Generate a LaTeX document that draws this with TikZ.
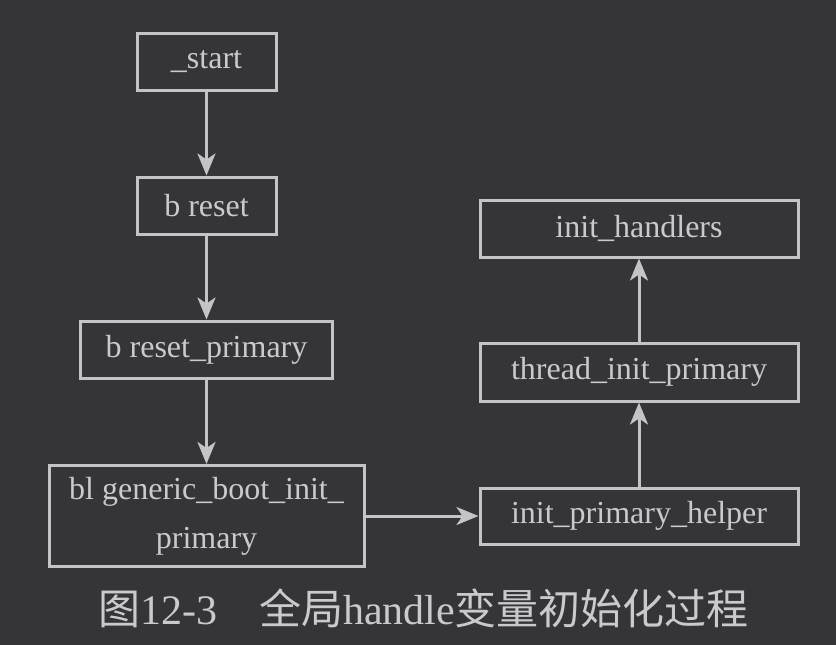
\documentclass[tikz,border=0pt]{standalone}
\usepackage{fontspec}
\setmainfont{Liberation Serif}
\newfontfamily\cjk{Noto Sans CJK SC}
\usetikzlibrary{arrows.meta}
\definecolor{bgdark}{HTML}{353437}
\definecolor{linegray}{HTML}{C4C4C8}
\definecolor{textgray}{HTML}{CACACC}
\begin{document}
\begin{tikzpicture}[x=1pt, y=-1pt, line width=3pt, >={Stealth[length=22pt,width=18pt,inset=6pt]},
  box node/.style={rectangle,draw=linegray,text=textgray,inner sep=0pt,align=center,font=\fontsize{32}{49}\selectfont}]%
\fill[bgdark] (0,0) rectangle (836,645);
\begin{scope}[every node/.style={box node}]
\node[minimum width=139pt, minimum height=57pt] (start) at (206.5,61.5) {\_start};
\node[minimum width=139pt, minimum height=57pt] (reset) at (206.5,205.5) {b reset};
\node[minimum width=252pt, minimum height=57pt] (resetprim) at (206.5,349.5) {b reset\_primary};
\node[minimum width=315pt, minimum height=101pt] (genboot) at (206.5,516) {bl generic\_boot\_init\_\\primary};
\node[minimum width=318pt, minimum height=57pt] (handlers) at (639,228.5) {init\_handlers};
\node[minimum width=318pt, minimum height=58pt] (threadinit) at (639,372) {thread\_init\_primary};
\node[minimum width=318pt, minimum height=56pt] (helper) at (639,516) {init\_primary\_helper};
\end{scope}
\begin{scope}[every edge/.style={draw=linegray,line width=3pt,->}]
\draw (start) edge (reset);
\draw (reset) edge (resetprim);
\draw (resetprim) edge (genboot);
\draw (genboot) edge (helper);
\draw (helper) edge (threadinit);
\draw (threadinit) edge (handlers);
\end{scope}
\node[text=textgray, font=\fontsize{42}{42}\selectfont, inner sep=0pt] (caption) at (423.5,608)
  {{\cjk 图}12-3\hspace{42pt}{\cjk 全局}handle{\cjk 变量初始化过程}};
\end{tikzpicture}
\end{document}
